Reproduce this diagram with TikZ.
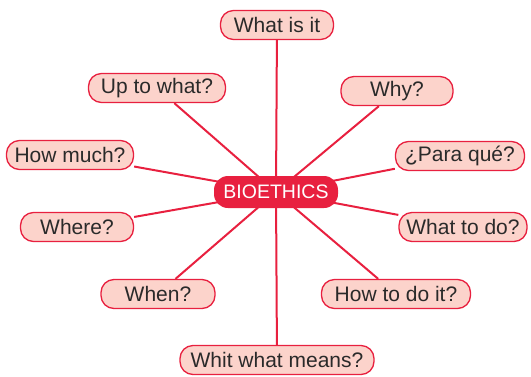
\documentclass[tikz,border=0pt]{standalone}
\usepackage{fontspec}
\setmainfont{Liberation Sans}
\usepackage{xcolor}
\usetikzlibrary{backgrounds}

\definecolor{bioRed}{HTML}{E8203F}
\definecolor{bioPink}{HTML}{FCD3CB}
\definecolor{bioText}{HTML}{2A2A2A}

\tikzset{
  question/.style={draw=bioRed, line width=1.3pt, fill=bioPink, text=bioText,
    rounded corners=13pt, minimum height=29pt, inner xsep=5pt, inner ysep=0pt,
    minimum width=#1, font=\fontsize{21}{23}\selectfont},
  question/.default=113pt,
  hub/.style={fill=bioRed, text=white, rounded corners=14pt, minimum height=32pt,
    minimum width=124pt, inner xsep=4pt, font=\fontsize{19.5}{22}\selectfont},
  spoke/.style={draw=bioRed, line width=2pt}
}

\begin{document}
\begin{tikzpicture}[x=1pt,y=-1pt]
\useasboundingbox (0,0) rectangle (531,376);

\node[hub] (bio) at (276,192) {BIOETHICS};

\node[question=113pt] (what) at (277,25) {What is it};
\node[question=137pt] (upto) at (157,88) {Up to what?};
\node[question=112pt] (why) at (397,91) {Why?};
\node[question=127pt] (howmuch) at (70,155) {How much?};
\node[question=129pt] (para) at (460,156) {¿Para qué?};
\node[question=113pt] (where) at (77,227) {Where?};
\node[question=128pt] (todo) at (463,227) {What to do?};
\node[question=114pt] (when) at (158,294) {When?};
\node[question=149pt] (howto) at (396,294) {How to do it?};
\node[question=194pt] (means) at (277,360) {Whit what means?};

\begin{scope}[on background layer]
\foreach \q in {what,upto,why,howmuch,para,where,todo,when,howto,means}
  \draw[spoke] (bio.center) -- (\q);
\end{scope}
\end{tikzpicture}
\end{document}
